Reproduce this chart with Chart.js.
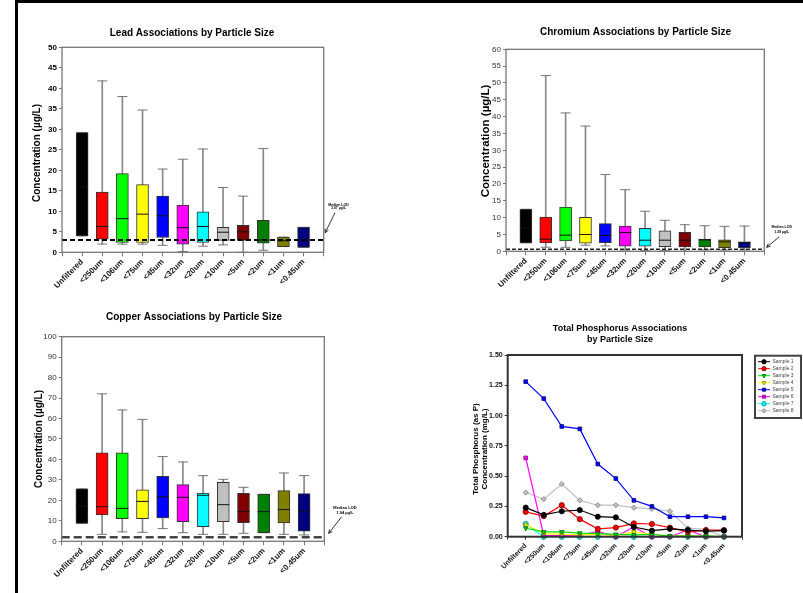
<!DOCTYPE html>
<html>
<head>
<meta charset="utf-8">
<script src="https://cdn.jsdelivr.net/npm/chart.js@4.4.1/dist/chart.umd.min.js"></script>
<style>
html, body { margin: 0; padding: 0; background: #fff; width: 803px; height: 593px; overflow: hidden; }
#frame { position: absolute; left: 15px; top: 0; width: 800px; height: 600px; border-top: 3px solid #000; border-left: 3px solid #000; box-sizing: border-box; }
canvas { position: absolute; }
</style>
</head>
<body>
<div id="frame"></div>
<canvas id="lead"></canvas>
<canvas id="chromium"></canvas>
<canvas id="copper"></canvas>
<canvas id="phosphorus"></canvas>
<script>
// categories shared by all four panels
const sizeLabels = ['Unfiltered', '<250um', '<106um', '<75um', '<45um', '<32um', '<20um', '<10um', '<5um', '<2um', '<1um', '<0.45um']

// lead (ug/L)
const leadMin    = [4.0, 2.0, 2.0, 2.0, 1.7, 0.2, 1.5, 1.8, 0.0, 0.5, 1.4, 1.2]
const leadQ1     = [4.0, 3.2, 2.4, 2.4, 3.6, 2.0, 2.4, 2.9, 2.9, 2.2, 1.4, 1.2]
const leadMedian = [16.0, 6.3, 8.2, 9.3, 8.9, 6.0, 6.3, 4.9, 5.0, 3.0, 2.8, 3.0]
const leadQ3     = [29.2, 14.7, 19.2, 16.5, 13.7, 11.5, 9.9, 6.1, 6.6, 7.8, 3.7, 6.1]
const leadMax    = [29.2, 41.8, 38.0, 34.7, 20.3, 22.7, 25.2, 15.8, 13.7, 25.3, 3.7, 6.1]
const leadLod = 3.0

// chromium (ug/L)
const chromMin    = [2.5, 1.2, 1.2, 1.8, 1.6, 0.4, 0.2, 0.2, 0.0, 0.4, 0.4, 0.4]
const chromQ1     = [2.5, 2.5, 3.1, 2.4, 2.6, 1.5, 1.5, 1.4, 1.3, 1.3, 1.1, 1.1]
const chromMedian = [7.0, 3.6, 4.8, 5.0, 4.7, 5.6, 3.3, 3.3, 3.3, 3.4, 2.8, 2.6]
const chromQ3     = [12.5, 10.2, 13.1, 10.1, 8.2, 7.5, 6.8, 6.1, 5.6, 3.6, 3.4, 2.8]
const chromMax    = [12.5, 52.2, 41.1, 37.2, 22.8, 18.3, 11.9, 9.2, 7.9, 7.6, 7.4, 7.5]
const chromLod = 0.6

// copper (ug/L)
const copperMin    = [8.8, 3.4, 4.6, 4.4, 6.2, 4.2, 3.4, 3.4, 3.9, 4.2, 3.4, 3.1]
const copperQ1     = [8.8, 12.9, 11.1, 11.1, 11.4, 9.6, 7.2, 9.6, 9.1, 4.2, 9.0, 5.0]
const copperMedian = [17.0, 16.9, 16.1, 19.5, 21.7, 21.5, 22.5, 17.9, 14.5, 14.5, 15.5, 14.8]
const copperQ3     = [25.6, 43.2, 43.2, 25.2, 31.8, 27.7, 23.6, 28.8, 23.5, 23.0, 24.8, 23.3]
const copperMax    = [25.6, 72.1, 64.2, 59.6, 41.4, 38.8, 32.1, 30.3, 26.4, 23.0, 33.4, 32.1]
const copperLod = 2.0

// total phosphorus (mg/L)
const sampleNames = ['Sample 1', 'Sample 2', 'Sample 3', 'Sample 4', 'Sample 5', 'Sample 6', 'Sample 7', 'Sample 8']
const sample1 = [0.24, 0.18, 0.21, 0.22, 0.165, 0.16, 0.08, 0.05, 0.065, 0.055, 0.045, 0.05]
const sample2 = [0.205, 0.17, 0.26, 0.145, 0.065, 0.075, 0.11, 0.105, 0.075, 0.04, 0.055, 0.055]
const sample3 = [0.07, 0.04, 0.04, 0.03, 0.025, 0.02, 0.015, 0.02, 0.005, 0.005, 0.005, 0.0]
const sample4 = [0.1, 0.025, 0.02, 0.015, 0.02, 0.01, 0.04, 0.02, 0.005, 0.005, 0.005, 0.0]
const sample5 = [1.28, 1.14, 0.91, 0.89, 0.60, 0.48, 0.30, 0.25, 0.165, 0.165, 0.165, 0.155]
const sample6 = [0.65, 0.01, 0.01, 0.01, 0.045, 0.0, 0.08, 0.0, 0.0, 0.055, 0.0, 0.0]
const sample7 = [0.105, 0.0, 0.0, 0.0, 0.0, 0.0, 0.0, 0.0, 0.0, 0.0, 0.0, 0.0]
const sample8 = [0.365, 0.31, 0.435, 0.30, 0.26, 0.26, 0.24, 0.23, 0.21, 0.07, 0.06, 0.0]

const boxColors = ['#000000', '#ff0000', '#00ff00', '#ffff00', '#0000ff', '#ff00ff', '#00ffff', '#c0c0c0', '#800000', '#008000', '#808000', '#000080']
const sampleLine = ['#000000', '#ff0000', '#00e000', '#ffff00', '#0000ff', '#ff00ff', '#00ffff', '#c0c0c0']
const sampleEdge = ['#000000', '#700000', '#006000', '#808000', '#000080', '#800080', '#008080', '#808080']
const sampleMarker = ['circle', 'circle', 'triangle', 'triangle', 'rect', 'rect', 'circle', 'rectRot']
const sampleRot = [0, 0, 180, 180, 0, 0, 0, 0]

const FONT = '"Liberation Sans", Arial, Helvetica, sans-serif'
const axisLabels = [''].concat(sizeLabels, [''])
const padEnds = arr => [null].concat(arr, [null])

function place(canvas, box) {
    canvas.width = box.w
    canvas.height = box.h
    canvas.style.left = box.x + 'px'
    canvas.style.top = box.y + 'px'
    canvas.style.width = box.w + 'px'
    canvas.style.height = box.h + 'px'
}

function layoutFor(box, plot) {
    return {
        padding: { left: 0, top: plot.t - box.y, right: box.x + box.w - plot.r, bottom: 0 },
        yWidth: plot.l - box.x,
        xHeight: box.y + box.h - plot.b
    }
}

const decorPlugin = {
    id: 'decor',
    afterDraw(chart, args, o) {
        const ctx = chart.ctx
        const a = chart.chartArea
        const ox = o.originX, oy = o.originY
        ctx.save()
        ctx.setLineDash([])
        ctx.strokeStyle = o.frameColor
        ctx.lineWidth = o.frameWidth
        ctx.strokeRect(a.left, a.top, a.right - a.left, a.bottom - a.top)

        ctx.fillStyle = '#000'
        ctx.textAlign = 'center'
        ctx.textBaseline = 'middle'
        ctx.font = 'bold ' + o.titleSize + 'px ' + FONT
        o.title.forEach((t, i) => ctx.fillText(t, o.titleX - ox, o.titleY - oy + i * o.titleGap))

        ctx.save()
        ctx.translate(o.yTitleX - ox, o.yTitleY - oy)
        ctx.rotate(-Math.PI / 2)
        ctx.font = 'bold ' + o.yTitleSize + 'px ' + FONT
        o.yTitle.forEach((t, i) => ctx.fillText(t, 0, i * o.yTitleGap))
        ctx.restore()

        if (o.note) {
            const n = o.note
            const bx = a.right
            const by = chart.scales.y.getPixelForValue(n.value)
            ctx.font = 'bold ' + n.size + 'px ' + FONT
            n.text.forEach((t, i) => ctx.fillText(t, bx + n.tx, by + n.ty + i * n.gap))
            const x1 = bx + n.sx, y1 = by + n.sy, x2 = bx + n.ex, y2 = by + n.ey
            ctx.strokeStyle = '#000'
            ctx.lineWidth = 0.8
            ctx.beginPath()
            ctx.moveTo(x1, y1)
            ctx.lineTo(x2, y2)
            ctx.stroke()
            const ang = Math.atan2(y2 - y1, x2 - x1)
            ctx.beginPath()
            ctx.moveTo(x2 - 4 * Math.cos(ang - 0.45), y2 - 4 * Math.sin(ang - 0.45))
            ctx.lineTo(x2, y2)
            ctx.lineTo(x2 - 4 * Math.cos(ang + 0.45), y2 - 4 * Math.sin(ang + 0.45))
            ctx.stroke()
        }

        if (o.legend) {
            const L = o.legend
            const lx = L.x - ox, ly = L.y - oy
            ctx.fillStyle = '#fff'
            ctx.fillRect(lx, ly, L.w, L.h)
            ctx.strokeStyle = '#444'
            ctx.lineWidth = 2
            ctx.strokeRect(lx, ly, L.w, L.h)
            chart.data.datasets.forEach((ds, i) => {
                const y = ly + L.rowTop + i * L.rowGap
                ctx.strokeStyle = ds.borderColor
                ctx.lineWidth = 1
                ctx.beginPath()
                ctx.moveTo(lx + 3, y)
                ctx.lineTo(lx + 15, y)
                ctx.stroke()
                ctx.fillStyle = ds.pointBackgroundColor
                ctx.strokeStyle = ds.pointBorderColor
                ctx.lineWidth = ds.pointBorderWidth
                Chart.helpers.drawPoint(ctx, { pointStyle: ds.pointStyle, rotation: ds.pointRotation, radius: 2.2, borderWidth: ds.pointBorderWidth }, lx + 9, y)
                ctx.fillStyle = '#444'
                ctx.textAlign = 'left'
                ctx.font = '5px ' + FONT
                ctx.fillText(ds.label, lx + 17.5, y)
            })
        }
        ctx.restore()
    }
}

function boxChart(id, s) {
    const canvas = document.getElementById(id)
    place(canvas, s.box)
    const lay = layoutFor(s.box, s.plot)
    return new Chart(canvas, {
        type: 'bar',
        data: {
            labels: axisLabels,
            datasets: [
                { type: 'line', data: axisLabels.map(() => s.lod), borderColor: s.lodColor, borderWidth: s.lodWidth, borderDash: s.lodDash, pointRadius: 0, clip: false, order: 0 },
                { type: 'line', data: padEnds(s.median), showLine: false, pointStyle: 'line', pointRadius: 6, borderColor: '#111', pointBorderColor: '#111', pointBorderWidth: 1, clip: false, order: 1 },
                { data: padEnds(s.q1.map((v, i) => [v, s.q3[i]])), backgroundColor: padEnds(boxColors), borderColor: '#333', borderWidth: 1, borderSkipped: false, barThickness: 12, grouped: false, order: 2 },
                { type: 'line', data: padEnds(s.max), showLine: false, pointStyle: 'line', pointRadius: 5, borderColor: '#777', pointBorderColor: '#777', pointBorderWidth: 1, clip: false, order: 3 },
                { type: 'line', data: padEnds(s.min), showLine: false, pointStyle: 'line', pointRadius: 5, borderColor: '#777', pointBorderColor: '#777', pointBorderWidth: 1, clip: false, order: 3 },
                { data: padEnds(s.min.map((v, i) => [v, s.max[i]])), backgroundColor: '#888', barThickness: 1, grouped: false, order: 4 }
            ]
        },
        options: {
            responsive: false,
            animation: false,
            events: [],
            layout: { padding: lay.padding },
            plugins: {
                legend: { display: false },
                tooltip: { enabled: false },
                decor: s.decor
            },
            scales: {
                x: {
                    offset: false,
                    grid: { offset: false, drawOnChartArea: false, tickLength: 4, color: s.frameColor },
                    border: { display: false },
                    ticks: { autoSkip: false, minRotation: 45, maxRotation: 45, padding: 1, color: '#111', font: { family: FONT, size: 8, weight: 'bold' } },
                    afterFit(scale) { scale.height = lay.xHeight; scale.paddingLeft = 0; scale.paddingRight = 0 }
                },
                y: {
                    min: 0,
                    max: s.yMax,
                    grid: { drawOnChartArea: false, tickLength: 3, color: s.frameColor },
                    border: { display: false },
                    ticks: { stepSize: s.yStep, padding: 2, color: s.tickColor, font: { family: FONT, size: 8, weight: s.tickWeight } },
                    afterFit(scale) { scale.width = lay.yWidth; scale.paddingTop = 0; scale.paddingBottom = 0 }
                }
            }
        },
        plugins: [decorPlugin]
    })
}

boxChart('lead', {
    box: { x: 20, y: 18, w: 380, h: 282 },
    plot: { l: 62, t: 47.3, r: 323.7, b: 252.3 },
    min: leadMin, q1: leadQ1, median: leadMedian, q3: leadQ3, max: leadMax,
    lod: leadLod, lodColor: '#000', lodWidth: 2, lodDash: [5, 3],
    yMax: 50, yStep: 5, tickColor: '#000', tickWeight: 'bold', frameColor: '#777',
    decor: {
        originX: 20, originY: 18, frameColor: '#777', frameWidth: 1.3,
        title: ['Lead Associations by Particle Size'], titleX: 192, titleY: 33, titleSize: 10, titleGap: 0,
        yTitle: ['Concentration (\u00b5g/L)'], yTitleX: 37, yTitleY: 153, yTitleSize: 10, yTitleGap: 0,
        note: { value: leadLod, text: ['Median LOD', '3.07 \u00b5g/L'], size: 3.5, gap: 3.7, tx: 14.8, ty: -35.3, sx: 11.3, sy: -27.3, ex: 1.5, ey: -7.3 }
    }
})

boxChart('chromium', {
    box: { x: 420, y: 18, w: 383, h: 282 },
    plot: { l: 506, t: 49.3, r: 764.3, b: 251.3 },
    min: chromMin, q1: chromQ1, median: chromMedian, q3: chromQ3, max: chromMax,
    lod: chromLod, lodColor: '#222', lodWidth: 1.5, lodDash: [4, 2],
    yMax: 60, yStep: 5, tickColor: '#333', tickWeight: 'normal', frameColor: '#777',
    decor: {
        originX: 420, originY: 18, frameColor: '#777', frameWidth: 1.3,
        title: ['Chromium Associations by Particle Size'], titleX: 635.5, titleY: 32, titleSize: 10, titleGap: 0,
        yTitle: ['Concentration (\u00b5g/L)'], yTitleX: 486, yTitleY: 141, yTitleSize: 11.5, yTitleGap: 0,
        note: { value: chromLod, text: ['Median LOD', '1.38 \u00b5g/L'], size: 3.5, gap: 5, tx: 17.4, ty: -22, sx: 15, sy: -12.6, ex: 2.4, ey: -2 }
    }
})

boxChart('copper', {
    box: { x: 20, y: 305, w: 380, h: 288 },
    plot: { l: 61.7, t: 336.7, r: 324.3, b: 541.3 },
    min: copperMin, q1: copperQ1, median: copperMedian, q3: copperQ3, max: copperMax,
    lod: copperLod, lodColor: '#444', lodWidth: 2.5, lodDash: [8, 4],
    yMax: 100, yStep: 10, tickColor: '#333', tickWeight: 'normal', frameColor: '#777',
    decor: {
        originX: 20, originY: 305, frameColor: '#777', frameWidth: 1.3,
        title: ['Copper Associations by Particle Size'], titleX: 194, titleY: 317, titleSize: 10, titleGap: 0,
        yTitle: ['Concentration (\u00b5g/L)'], yTitleX: 39, yTitleY: 439, yTitleSize: 10, yTitleGap: 0,
        note: { value: copperLod, text: ['Median LOD', '1.94 \u00b5g/L'], size: 4, gap: 5, tx: 20.7, ty: -29.5, sx: 17.4, sy: -20.5, ex: 4.4, ey: -3.9 }
    }
})

// phosphorus line chart
const samples = [sample1, sample2, sample3, sample4, sample5, sample6, sample7, sample8]
const phosCanvas = document.getElementById('phosphorus')
const phosBox = { x: 450, y: 305, w: 353, h: 288 }
const phosLay = layoutFor(phosBox, { l: 507.7, t: 355, r: 742, b: 536.7 })
place(phosCanvas, phosBox)
new Chart(phosCanvas, {
    type: 'line',
    data: {
        labels: axisLabels,
        datasets: samples.map((vals, k) => ({
            label: sampleNames[k],
            data: padEnds(vals),
            borderColor: sampleLine[k],
            borderWidth: 1.2,
            pointStyle: sampleMarker[k],
            pointRotation: sampleRot[k],
            pointRadius: 2.6,
            pointBackgroundColor: sampleLine[k],
            pointBorderColor: sampleEdge[k],
            pointBorderWidth: 0.8,
            clip: false
        }))
    },
    options: {
        responsive: false,
        animation: false,
        events: [],
        layout: { padding: phosLay.padding },
        plugins: {
            legend: { display: false },
            tooltip: { enabled: false },
            decor: {
                originX: 450, originY: 305, frameColor: '#333', frameWidth: 2,
                title: ['Total Phosphorus Associations', 'by Particle Size'], titleX: 620, titleY: 328.7, titleSize: 9, titleGap: 10.6,
                yTitle: ['Total Phosphorus (as P)', 'Concentration (mg/L)'], yTitleX: 476, yTitleY: 449, yTitleSize: 8, yTitleGap: 8.5,
                legend: { x: 755, y: 355.7, w: 46, h: 62.3, rowTop: 6, rowGap: 7 }
            }
        },
        scales: {
            x: {
                offset: false,
                grid: { offset: false, drawOnChartArea: false, tickLength: 3, color: '#333' },
                border: { display: false },
                ticks: { autoSkip: false, minRotation: 45, maxRotation: 45, padding: 2, color: '#111', font: { family: FONT, size: 7, weight: 'bold' } },
                afterFit(scale) { scale.height = phosLay.xHeight; scale.paddingLeft = 0; scale.paddingRight = 0 }
            },
            y: {
                min: 0,
                max: 1.5,
                grid: { drawOnChartArea: false, tickLength: 3, color: '#333' },
                border: { display: false },
                ticks: { stepSize: 0.25, padding: 2, color: '#111', font: { family: FONT, size: 7, weight: 'bold' }, callback: v => v.toFixed(2) },
                afterFit(scale) { scale.width = phosLay.yWidth; scale.paddingTop = 0; scale.paddingBottom = 0 }
            }
        }
    },
    plugins: [decorPlugin]
})
</script>
</body>
</html>
